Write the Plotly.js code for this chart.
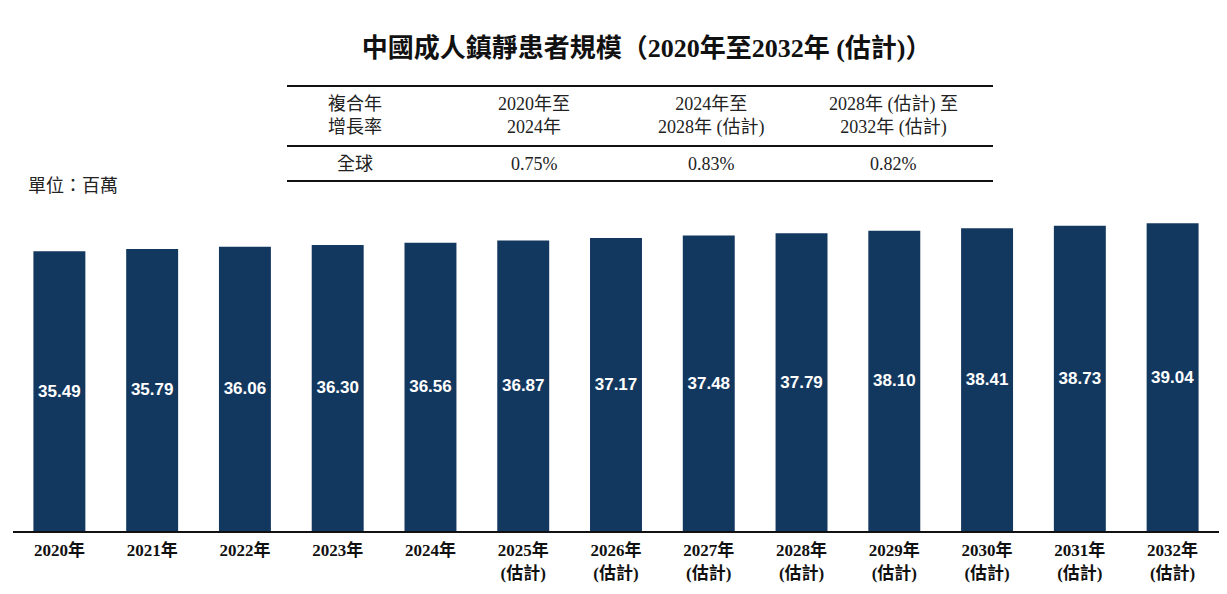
<!DOCTYPE html>
<html>
<head>
<meta charset="utf-8">
<script src="https://cdn.plot.ly/plotly-3.0.1.min.js"></script>
<style>html,body{margin:0;padding:0;background:#fff;}#chart{width:1227px;height:594px;}</style>
</head>
<body>
<div id="chart"></div>
<script>
var categories = ["2020","2021","2022","2023","2024","2025E","2026E","2027E","2028E","2029E","2030E","2031E","2032E"];
var tickLabels = ["2020年","2021年","2022年","2023年","2024年","2025年<br>(估計)","2026年<br>(估計)","2027年<br>(估計)","2028年<br>(估計)","2029年<br>(估計)","2030年<br>(估計)","2031年<br>(估計)","2032年<br>(估計)"];
var values = [35.49,35.79,36.06,36.30,36.56,36.87,37.17,37.48,37.79,38.10,38.41,38.73,39.04];

var tableHeader = ["複合年<br>增長率","2020年至<br>2024年","2024年至<br>2028年 (估計)","2028年 (估計) 至<br>2032年 (估計)"];
var tableRow = ["全球","0.75%","0.83%","0.82%"];

var W = 1227, H = 594;
var mL = 13, mR = 8, mT = 200, mB = 63;
var pw = W - mL - mR, ph = H - mT - mB;
function px(x){ return (x - mL) / pw; }
function py(y){ return (H - mB - y) / ph; }

var serif = "Liberation Serif, Noto Sans CJK TC, serif";
var colX = [355, 534, 711, 893];

var annotations = [];
for (var i = 0; i < tableHeader.length; i++) {
  annotations.push({xref:'paper', yref:'paper', x:px(colX[i]), y:py(116), text:tableHeader[i], showarrow:false,
    font:{family:serif, size:18, color:'#222'}, xanchor:'center', yanchor:'middle', align:'center'});
  annotations.push({xref:'paper', yref:'paper', x:px(colX[i]), y:py(164), text:tableRow[i], showarrow:false,
    font:{family:serif, size:18, color:'#222'}, xanchor:'center', yanchor:'middle', align:'center'});
}
annotations.push({xref:'paper', yref:'paper', x:px(26), y:py(186), text:"單位：百萬", showarrow:false,
  font:{family:serif, size:18, color:'#222'}, xanchor:'left', yanchor:'middle'});

var shapes = [86, 146, 181].map(function(y){
  return {type:'line', xref:'paper', yref:'paper', x0:px(287), x1:px(993), y0:py(y), y1:py(y),
    line:{color:'#111', width:2}};
});

var trace = {
  type:'bar', x:categories, y:values,
  marker:{color:'#13385F'},
  text: values.map(function(v){ return v.toFixed(2); }),
  textposition:'inside', insidetextanchor:'middle',
  textfont:{family:'Liberation Sans, Arial, sans-serif', size:17, color:'#fff', weight:'bold'},
  hoverinfo:'none', cliponaxis:false
};

var layout = {
  width:W, height:H,
  margin:{l:mL, r:mR, t:mT, b:mB},
  paper_bgcolor:'#fff', plot_bgcolor:'#fff',
  title:{text:"<b>中國成人鎮靜患者規模（2020年至2032年 (估計)）</b>", x:0.527, xanchor:'center', y:1-48/H, yanchor:'middle',
    font:{family:serif, size:26, color:'#111'}},
  bargap:0.44,
  showlegend:false,
  xaxis:{type:'category', tickvals:categories, ticktext:tickLabels, showline:true, linecolor:'#111', linewidth:2,
    ticks:'', showgrid:false, zeroline:false, fixedrange:true, ticklabelstandoff:3,
    tickfont:{family:serif, size:17, color:'#111', weight:'bold'}},
  yaxis:{range:[0,42], visible:false, showgrid:false, zeroline:false},
  annotations:annotations,
  shapes:shapes
};

Plotly.newPlot('chart', [trace], layout, {displayModeBar:false, staticPlot:true});
</script>
</body>
</html>
